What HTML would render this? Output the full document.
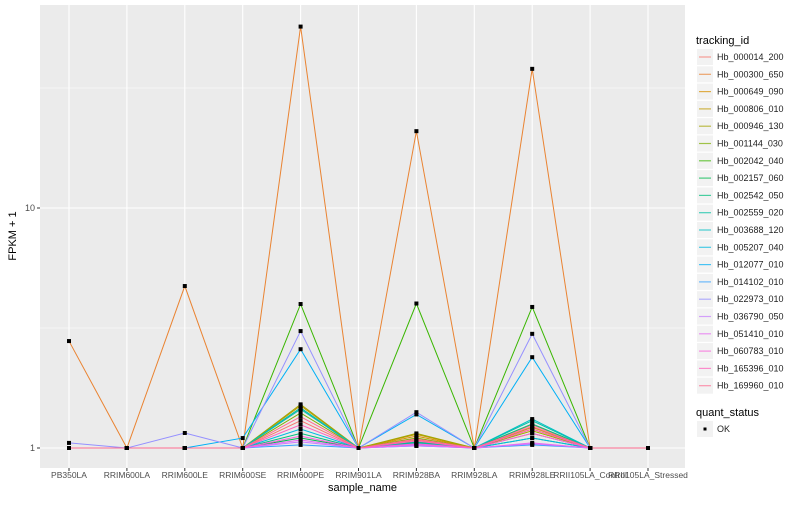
<!DOCTYPE html>
<html><head><meta charset="utf-8"><style>
body{margin:0;background:#fff;font-family:"Liberation Sans",sans-serif}
svg text{font-family:"Liberation Sans",sans-serif}
</style></head><body>
<svg id="c" width="800" height="500"></svg>
<script>
const categories=["PB350LA","RRIM600LA","RRIM600LE","RRIM600SE","RRIM600PE","RRIM901LA","RRIM928BA","RRIM928LA","RRIM928LE","RRII105LA_Control","RRII105LA_Stressed"];
const ids=["Hb_000014_200","Hb_000300_650","Hb_000649_090","Hb_000806_010","Hb_000946_130","Hb_001144_030","Hb_002042_040","Hb_002157_060","Hb_002542_050","Hb_002559_020","Hb_003688_120","Hb_005207_040","Hb_012077_010","Hb_014102_010","Hb_022973_010","Hb_036790_050","Hb_051410_010","Hb_060783_010","Hb_165396_010","Hb_169960_010"];
const colors=["#F8766D","#EA8331","#D89000","#C09B00","#A3A500","#7CAE00","#39B600","#00BB4E","#00BF7D","#00C1A3","#00BFC4","#00BAE0","#00B0F6","#35A2FF","#9590FF","#C77CFF","#E76BF3","#FA62DB","#FF62BC","#FF6C91"];
const s00=[1,1,1,1,1.3,1,1.08,1,1.25,1,1];
const s01=[2.79,1,4.73,1,57,1,20.9,1,38,1,1];
const s02=[1,1,1,1,1.45,1,1.12,1,1.2,1,1];
const s03=[1,1,1,1,1.5,1,1.14,1,1.22,1,1];
const s04=[1,1,1,1,1.52,1,1.15,1,1.18,1,1];
const s05=[1,1,1,1,1.4,1,1.1,1,1.15,1,1];
const s06=[1,1,1,1,3.98,1,4.0,1,3.87,1,1];
const s07=[1,1,1,1,1.1,1,1.05,1,1.1,1,1];
const s08=[1,1,1,1,1.15,1,1.06,1,1.26,1,1];
const s09=[1,1,1,1,1.47,1,1.05,1,1.3,1,1];
const s10=[1,1,1,1,1.45,1,1.04,1,1.32,1,1];
const s11=[1,1,1,1,1.2,1,1.03,1,1.1,1,1];
const s12=[1,1,1,1.1,2.58,1,1.38,1,2.39,1,1];
const s13=[1,1,1,1,1.03,1,1.02,1,1.03,1,1];
const s14=[1.05,1,1.155,1,3.07,1,1.41,1,2.99,1,1];
const s15=[1,1,1,1,1.06,1,1.02,1,1.04,1,1];
const s16=[1,1,1,1,1.08,1,1.03,1,1.05,1,1];
const s17=[1,1,1,1,1.12,1,1.04,1,1.15,1,1];
const s18=[1,1,1,1,1.25,1,1.07,1,1.2,1,1];
const s19=[1,1,1,1,1.35,1,1.09,1,1.23,1,1];
const series=[s00,s01,s02,s03,s04,s05,s06,s07,s08,s09,s10,s11,s12,s13,s14,s15,s16,s17,s18,s19];
const yTicks=[1,10];
const NS="http://www.w3.org/2000/svg";
const svg=document.getElementById('c');
function el(t,a,p){const e=document.createElementNS(NS,t);for(const k in a)e.setAttribute(k,a[k]);(p||svg).appendChild(e);return e;}
const L=40,R=685,T=5,B=468;
const xS=i=>69+i*(648-69)/(categories.length-1);
const yS=v=>448-240*Math.log10(v);
const panel=el('rect',{x:L,y:T,width:R-L,height:B-T,fill:'#EBEBEB'});


[0.5,1.5].forEach(d=>el('line',{x1:L,x2:R,y1:yS(Math.pow(10,d)),y2:yS(Math.pow(10,d)),stroke:'#fff','stroke-width':0.5}));
yTicks.forEach(v=>{
 el('line',{x1:L,x2:R,y1:yS(v),y2:yS(v),stroke:'#fff','stroke-width':1.1});
 el('line',{x1:L-3,x2:L,y1:yS(v),y2:yS(v),stroke:'#333'});
 const t=el('text',{x:L-5,y:yS(v)+3,'text-anchor':'end','font-size':9,fill:'#4D4D4D'});t.textContent=v;
 
 
});
categories.forEach((c,i)=>{
 el('line',{x1:xS(i),x2:xS(i),y1:T,y2:B,stroke:'#fff','stroke-width':1.1});
 el('line',{x1:xS(i),x2:xS(i),y1:B,y2:B+3,stroke:'#333'});
 const t=el('text',{x:xS(i),y:B+10,'text-anchor':'middle','font-size':8.5,fill:'#4D4D4D'});t.textContent=c;
 
 
});
series.forEach((s,k)=>{
 const p=el('polyline',{points:s.map((v,i)=>xS(i)+','+yS(v)).join(' '),fill:'none',stroke:colors[k],'stroke-width':1});
 
 
});
series.forEach((s,k)=>s.forEach((v,i)=>{
 const r=el('rect',{x:xS(i)-2,y:yS(v)-2,width:4,height:4,fill:'#000'});
 
 
}));
let t=el('text',{x:(L+R)/2,y:491,'text-anchor':'middle','font-size':11});t.textContent='sample_name';

t=el('text',{x:16,y:236,'text-anchor':'middle','font-size':11,transform:'rotate(-90 16 236)'});t.textContent='FPKM + 1';

t=el('text',{x:696,y:44,'font-size':11});t.textContent='tracking_id';

ids.forEach((id,k)=>{
 const y=49+k*17.3;
 const g=el('g',{});
 
 
 el('rect',{x:697,y:y,width:16,height:16,fill:'#F2F2F2'},g);
 el('line',{x1:699,x2:711,y1:y+8,y2:y+8,stroke:colors[k],'stroke-width':1.2,opacity:0.7},g);
 const tt=el('text',{x:717,y:y+11,'font-size':9,fill:'#222'},g);tt.textContent=id;
});
t=el('text',{x:696,y:416,'font-size':11});t.textContent='quant_status';

const g2=el('g',{});


el('rect',{x:697,y:421,width:16,height:16,fill:'#F2F2F2'},g2);
el('rect',{x:703.5,y:427.5,width:3,height:3,fill:'#000'},g2);
t=el('text',{x:717,y:432,'font-size':9,fill:'#222'},g2);t.textContent='OK';
</script>
</body></html>
